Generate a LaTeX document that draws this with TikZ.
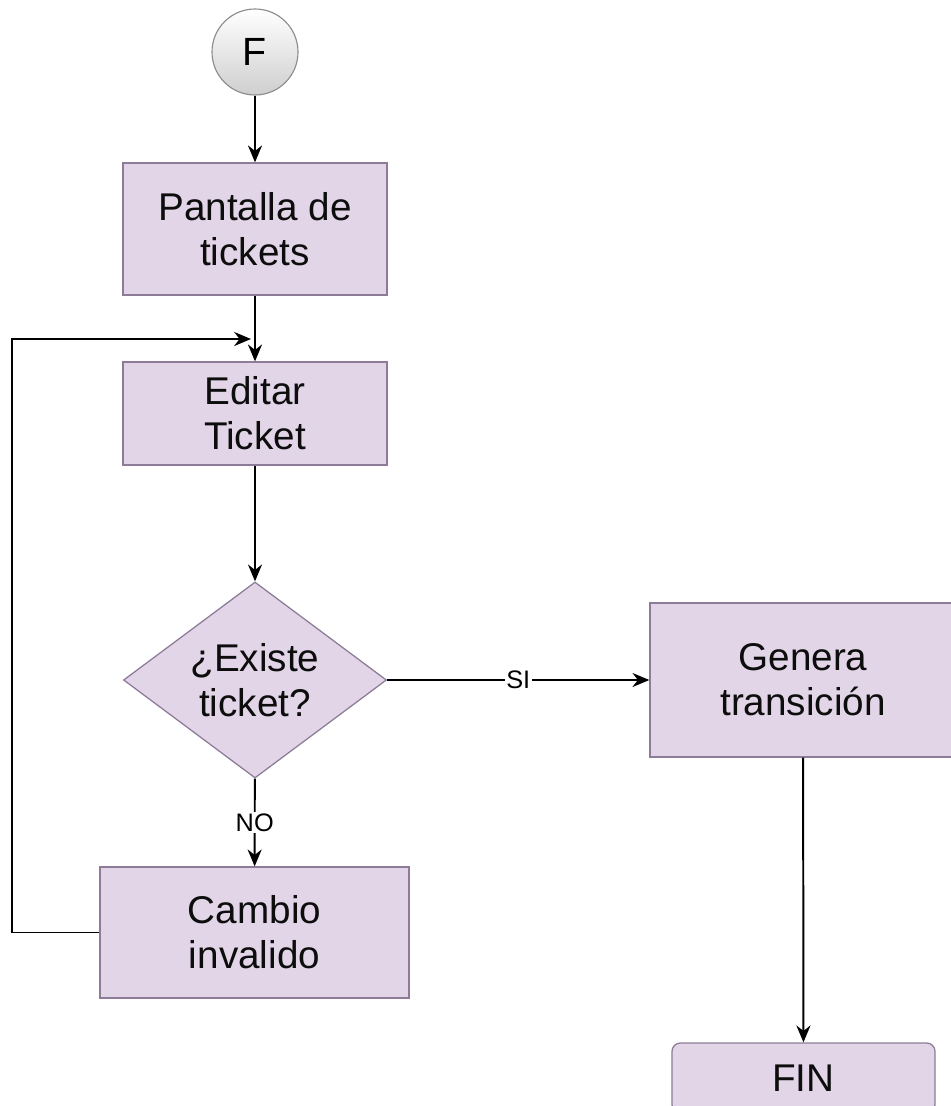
\documentclass[tikz,border=0pt]{standalone}
\usepackage{fontspec}
\setmainfont{Liberation Sans}
\usetikzlibrary{shapes.geometric, arrows.meta}

\definecolor{boxfill}{HTML}{E1D5E7}
\definecolor{boxline}{HTML}{8E7B98}

\begin{document}
\begin{tikzpicture}[x=0.025cm, y=-0.025cm, >={Stealth[length=12pt, width=10pt]},
  box/.style={rectangle, draw=boxline, fill=boxfill, line width=0.9pt, align=center,
    font=\fontsize{27.5}{32}\selectfont, text=black!95},
  decide/.style={diamond, draw=boxline, fill=boxfill, line width=0.9pt, align=center,
    inner sep=0pt, aspect=1.34, font=\fontsize{27.5}{32}\selectfont, text=black!95},
  flow/.style={->, line width=1.4pt},
  tag/.style={fill=white, inner sep=1pt, font=\fontsize{18}{20}\selectfont}]
  % Frame
  \useasboundingbox (0,0) rectangle (951,1106);
  \clip (0,0) rectangle (951,1106);

  % Start
  \node[circle, draw=gray!90, line width=0.8pt, top color=white, bottom color=gray!38,
    minimum size=2.15cm, inner sep=0pt, font=\fontsize{28}{32}\selectfont] (start) at (255,52) {F};

  % Boxes
  \node[box, minimum width=6.6cm, minimum height=3.3cm] (pant) at (255,229) {Pantalla de\\tickets};
  \node[box, minimum width=6.6cm, minimum height=2.575cm] (edit) at (255,413.5) {Editar\\Ticket};
  \node[decide, minimum width=6.575cm, minimum height=4.9cm] (exist) at (255,680) {¿Existe\\ticket?};
  \node[box, minimum width=7.725cm, minimum height=3.275cm] (camb) at (254.5,932.5) {Cambio\\invalido};
  \node[box, minimum width=7.65cm, minimum height=3.85cm] (gen) at (803,680) {Genera\\transición};
  \node[box, rounded corners=6pt, minimum width=6.575cm, minimum height=1.75cm] (fin) at (803.5,1078) {FIN};

  % Arrows
  \draw[flow] (start) -- (pant);
  \draw[flow] (pant) -- (edit);
  \draw[flow] (edit) -- (exist);
  \draw[flow] (exist) -- node[tag] {NO} (camb);
  \draw[flow] (exist) -- node[tag] {SI} (gen);
  \draw[flow] (gen) -- (fin);

  % Loop back
  \coordinate (loopin) at (251,339);
  \draw[flow] (camb.west) -- ++(-87,0) |- (loopin);
\end{tikzpicture}
\end{document}
